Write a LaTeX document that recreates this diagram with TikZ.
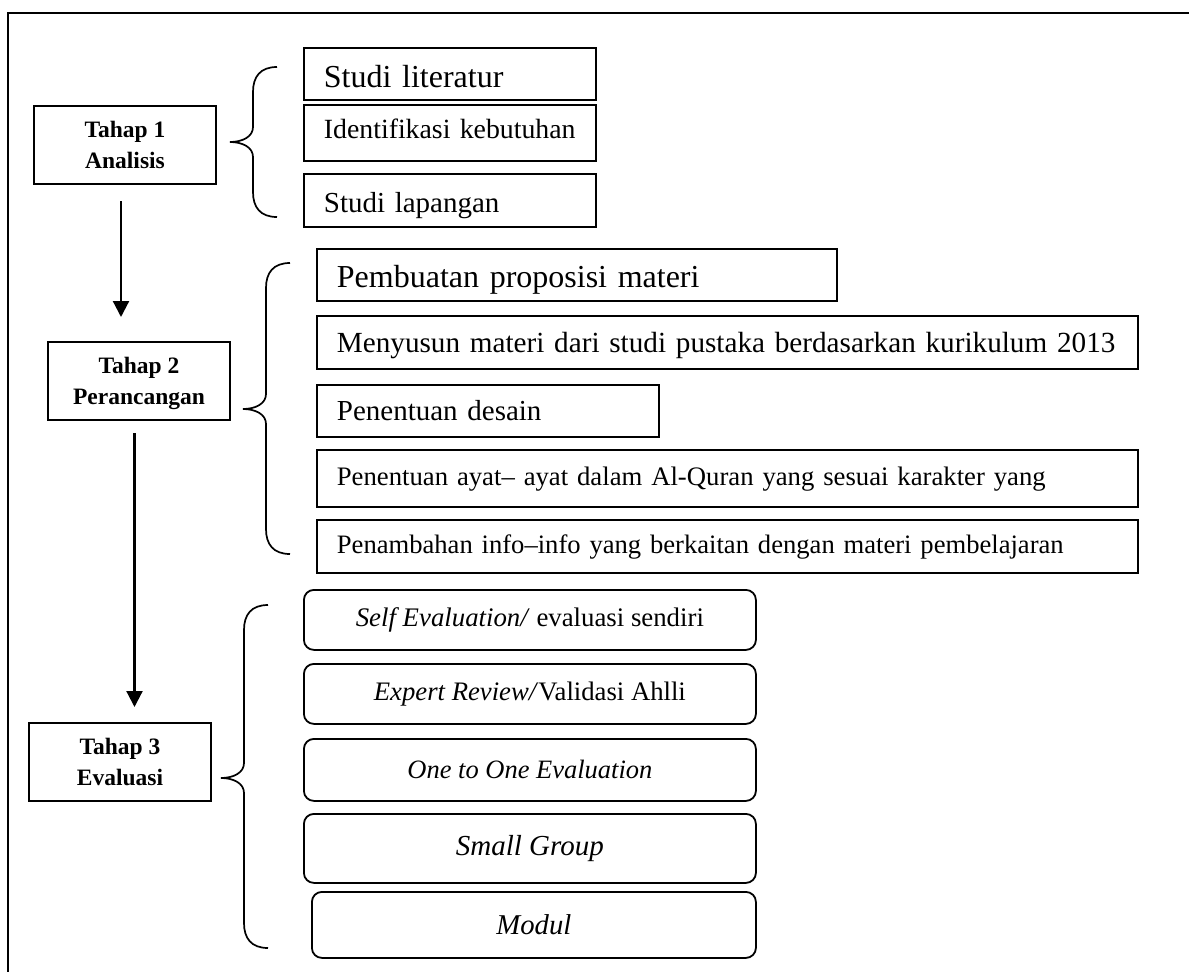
\documentclass[tikz,border=0pt]{standalone}
\usepackage{fontspec}
\setmainfont{Liberation Serif}
\usetikzlibrary{arrows.meta}

\newcommand{\kurawal}[4]{%
  \draw[garis] (#1+47,#3) .. controls (#1+30,#3) and (#1+23,#3+10) .. (#1+23,#3+25)
    -- (#1+23,#2-15) .. controls (#1+23,#2-5) and (#1+12,#2) .. (#1,#2)
    .. controls (#1+12,#2) and (#1+23,#2+5) .. (#1+23,#2+15)
    -- (#1+23,#4-25) .. controls (#1+23,#4-10) and (#1+30,#4) .. (#1+47,#4);}

\begin{document}
\begin{tikzpicture}[x=1pt, y=-1pt,
    garis/.style={line width=1.7pt},
    tahap/.style={draw, line width=2pt, anchor=north west, inner sep=0pt, minimum width=182pt, minimum height=78pt, align=center, text depth=0pt, font=\fontsize{23.5pt}{31pt}\selectfont\bfseries},
    kotak/.style={draw, line width=1.8pt, anchor=north west, inner xsep=20pt, inner ysep=0pt, align=left, text depth=0pt},
    bulat/.style={draw, line width=1.8pt, rounded corners=10pt, anchor=north west, inner sep=0pt, minimum width=452pt, align=center},
    panah/.style={line width=2.2pt, -{Triangle[length=16pt,width=16pt]}}]
    \useasboundingbox (0,0) rectangle (1189,972);
    \draw[garis] (1189,13) -- (8,13) -- (8,972);

    \node[tahap] (t1) at (33,105) {Tahap 1\\Analisis};
    \node[tahap] (t2) at (47,341) {Tahap 2\\Perancangan};
    \node[tahap] (t3) at (28,722) {Tahap 3\\Evaluasi};

    \node[kotak, text width=252pt, minimum height=52pt, text height=28pt, font=\fontsize{32pt}{38pt}\selectfont] (a1) at (303,47) {Studi literatur};
    \node[kotak, text width=252pt, minimum height=56pt, text height=12pt, font=\fontsize{27.8pt}{34pt}\selectfont] (a2) at (303,104) {Identifikasi kebutuhan};
    \node[kotak, text width=252pt, minimum height=53pt, text height=25pt, font=\fontsize{29pt}{35pt}\selectfont] (a3) at (303,173) {Studi lapangan};

    \node[kotak, text width=480pt, minimum height=52pt, text height=26pt, font=\fontsize{32pt}{38pt}\selectfont] (p1) at (316,248) {Pembuatan proposisi materi};
    \node[kotak, text width=781pt, minimum height=53pt, text height=21pt, font=\fontsize{29.2pt}{35pt}\selectfont] (p2) at (316,315) {Menyusun materi dari studi pustaka berdasarkan kurikulum 2013};
    \node[kotak, text width=302pt, minimum height=52pt, text height=20pt, font=\fontsize{29pt}{35pt}\selectfont] (p3) at (316,384) {Penentuan desain};
    \node[kotak, text width=781pt, minimum height=57pt, text height=15pt, font=\fontsize{26.7pt}{32pt}\selectfont] (p4) at (316,449) {Penentuan ayat-- ayat dalam Al-Quran yang sesuai karakter yang};
    \node[kotak, text width=781pt, minimum height=53pt, text height=15pt, font=\fontsize{26.6pt}{32pt}\selectfont] (p5) at (316,519) {Penambahan info--info yang berkaitan dengan materi pembelajaran};

    \node[bulat, minimum height=60pt, font=\fontsize{26.8pt}{32pt}\selectfont] (e1) at (303,589) {\textit{Self Evaluation/} evaluasi sendiri};
    \node[bulat, minimum height=60pt, font=\fontsize{26.7pt}{32pt}\selectfont] (e2) at (303,663) {\textit{Expert Review/}Validasi Ahlli};
    \node[bulat, minimum height=62pt, font=\fontsize{26.5pt}{32pt}\selectfont] (e3) at (303,738) {\textit{One to One Evaluation}};
    \node[bulat, minimum height=69pt, font=\fontsize{29pt}{35pt}\selectfont] (e4) at (303,813) {\textit{Small Group}};
    \node[bulat, minimum width=444pt, minimum height=66pt, font=\fontsize{28.7pt}{34pt}\selectfont] (e5) at (311,891) {\textit{Modul}};

    \kurawal{230}{142}{67}{217}
    \kurawal{243}{409}{263}{554}
    \kurawal{221}{778}{605}{948}

    \draw[panah, shorten <=16pt, shorten >=24pt] ([xshift=-4pt]t1.south) -- ([xshift=-4pt]t1.south |- t2.north);
    \draw[panah, shorten <=12pt, shorten >=15pt] ([xshift=-4.5pt]t2.south) -- ([xshift=-4.5pt]t2.south |- t3.north);
\end{tikzpicture}
\end{document}
